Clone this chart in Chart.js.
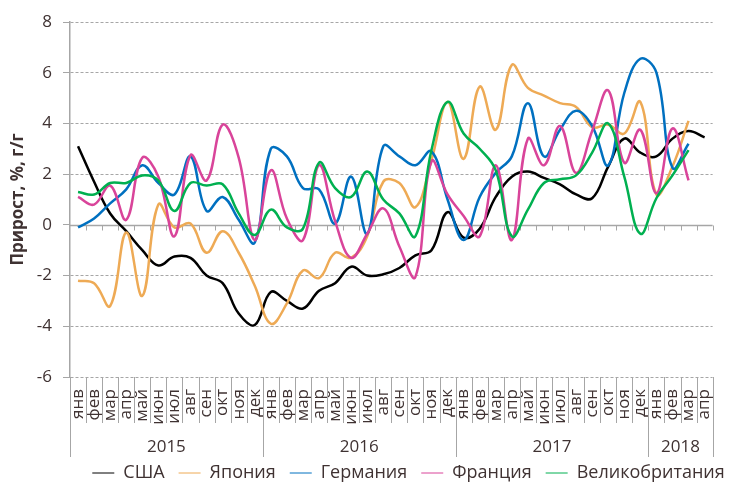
<!DOCTYPE html>
<html lang="ru">
<head>
<meta charset="utf-8">
<title>Прирост, %, г/г</title>
<script src="https://cdn.jsdelivr.net/npm/chart.js@4"></script>
<style>
  body { margin: 0; background: #fff; }
</style>
</head>
<body>
<canvas id="myChart" width="737" height="487"></canvas>
<script>
  const monthNames = ['янв', 'фев', 'мар', 'апр', 'май', 'июн', 'июл', 'авг', 'сен', 'окт', 'ноя', 'дек'];
  const years = ['2015', '2016', '2017', '2018'];
  const monthsInYear = [12, 12, 12, 4];
  const yTicks = [-6, -4, -2, 0, 2, 4, 6, 8];

  // годовой прирост, %, янв 2015 - апр 2018
  const usa = [3.1, 1.7, 0.45, -0.25, -1.0, -1.6, -1.25, -1.3, -2.0, -2.3, -3.5, -3.95,
    -2.65, -3.0, -3.3, -2.6, -2.3, -1.65, -2.0, -1.95, -1.7, -1.2, -1.0, 0.5,
    -0.5, -0.15, 1.1, 1.9, 2.1, 1.85, 1.6, 1.2, 1.05, 2.3, 3.4, 2.85,
    2.7, 3.4, 3.7, 3.45];
  const japan = [-2.2, -2.3, -3.2, -0.3, -2.8, 0.8, -0.1, 0.05, -1.1, -0.25, -1.1, -2.4,
    -3.9, -3.1, -1.8, -2.1, -1.1, -1.3, -0.45, 1.7, 1.65, 0.7, 2.55, 4.85,
    2.6, 5.45, 3.75, 6.3, 5.4, 5.1, 4.8, 4.65, 3.85, 3.95, 3.6, 4.85,
    1.2, 2.3, 4.1];
  const germany = [-0.1, 0.25, 0.85, 1.4, 2.35, 1.65, 1.2, 2.7, 0.55, 1.1, 0.2, -0.7,
    3.0, 2.7, 1.45, 1.4, 0.05, 1.9, -0.35, 3.1, 2.7, 2.35, 2.9, 1.0,
    -0.6, 1.1, 2.05, 2.7, 4.8, 2.7, 3.75, 4.5, 3.9, 2.35, 5.2, 6.55,
    6.0, 2.25, 3.2];
  const france = [1.1, 0.8, 1.55, 0.2, 2.65, 1.9, -0.45, 2.75, 1.75, 3.95, 2.65, -0.6,
    2.15, 0.25, -0.6, 2.35, 0.15, -1.3, -0.35, 0.65, -0.85, -2.05, 2.5, 1.2,
    0.35, -0.45, 2.35, -0.6, 3.4, 2.35, 3.9, 2.05, 3.7, 5.3, 2.45, 3.75,
    1.25, 3.8, 1.75];
  const uk = [1.3, 1.2, 1.65, 1.65, 1.95, 1.75, 0.55, 1.65, 1.55, 1.6, 0.45, -0.4,
    0.6, -0.1, -0.15, 2.45, 1.45, 1.1, 2.1, 1.0, 0.45, -0.45, 2.95, 4.85,
    3.6, 3.0, 2.15, -0.45, 0.6, 1.65, 1.8, 1.95, 2.85, 4.0, 1.9, -0.35,
    1.05, 1.95, 2.95];

  const textColor = '#3f3232';
  const axisColor = '#a6a6a6';
  const fontFamily = "'Open Sans', sans-serif";

  const labels = [];
  years.forEach((yr, i) => {
    for (let m = 0; m < monthsInYear[i]; m++) labels.push(monthNames[m]);
  });
  const yearBounds = [0];
  monthsInYear.forEach(n => yearBounds.push(yearBounds[yearBounds.length - 1] + n));

  Chart.defaults.font.family = fontFamily;
  Chart.defaults.color = textColor;

  // ось на нуле, разделители подписей, годы
  const axisExtras = {
    id: 'axisExtras',
    afterLayout(chart) {
      // легенда чуть ниже и правее, как в оригинале
      const lg = chart.legend;
      lg.top += 5; lg.bottom += 5;
      lg.left += 40; lg.right += 40;
    },
    beforeDatasetsDraw(chart) {
      const {ctx, chartArea, scales: {x, y}} = chart;
      const y0 = Math.round(y.getPixelForValue(0)) + 0.5;
      ctx.save();
      ctx.strokeStyle = axisColor;
      ctx.lineWidth = 1.5;
      ctx.beginPath();
      ctx.moveTo(chartArea.left, y0);
      ctx.lineTo(chartArea.right, y0);
      ctx.stroke();
      ctx.lineWidth = 1;
      ctx.beginPath();
      for (let k = 1; k <= labels.length; k++) {
        const px = Math.round(x.getPixelForValue(k - 0.5)) + 0.5;
        ctx.moveTo(px, y0);
        ctx.lineTo(px, y0 + 5);
      }
      ctx.stroke();
      ctx.restore();
    },
    afterDraw(chart) {
      const {ctx, chartArea, scales: {x}} = chart;
      ctx.save();
      ctx.strokeStyle = axisColor;
      ctx.lineWidth = 1;
      ctx.beginPath();
      for (let k = 0; k <= labels.length; k++) {
        const px = Math.round(x.getPixelForValue(k - 0.5)) + 0.5;
        const len = yearBounds.includes(k) ? 80 : 46;
        ctx.moveTo(px, chartArea.bottom);
        ctx.lineTo(px, chartArea.bottom + len);
      }
      ctx.stroke();
      ctx.fillStyle = textColor;
      ctx.font = '17px ' + fontFamily;
      ctx.textAlign = 'center';
      ctx.textBaseline = 'middle';
      years.forEach((yr, i) => {
        const a = x.getPixelForValue(yearBounds[i] - 0.5);
        const b = x.getPixelForValue(yearBounds[i + 1] - 0.5);
        ctx.fillText(yr, (a + b) / 2, chartArea.bottom + 70);
      });
      ctx.restore();
    }
  };

  const ctx = document.getElementById('myChart');

  new Chart(ctx, {
    type: 'line',
    data: {
      labels: labels,
      datasets: [
        { label: 'США', data: usa, borderColor: '#000000', order: 5 },
        { label: 'Япония', data: japan, borderColor: '#eeaa55', order: 4 },
        { label: 'Германия', data: germany, borderColor: '#0070c0', order: 3 },
        { label: 'Франция', data: france, borderColor: '#d9449a', order: 2 },
        { label: 'Великобритания', data: uk, borderColor: '#00b050', order: 1 }
      ]
    },
    options: {
      responsive: false,
      animation: false,
      layout: { padding: { top: 22, right: 0, bottom: 0, left: 0 } },
      elements: {
        line: { borderWidth: 2.5, tension: 0.4, fill: false },
        point: { radius: 0 }
      },
      plugins: {
        tooltip: { enabled: false },
        legend: {
          position: 'bottom',
          labels: {
            sort: (a, b) => a.datasetIndex - b.datasetIndex,
            usePointStyle: true,
            pointStyle: 'line',
            pointStyleWidth: 22,
            padding: 14,
            color: textColor,
            font: { size: 18 }
          }
        }
      },
      scales: {
        x: {
          offset: true,
          grid: { display: false, drawTicks: false },
          border: { display: false },
          ticks: {
            autoSkip: false,
            minRotation: 90,
            maxRotation: 90,
            padding: 12,
            color: textColor,
            font: { size: 17 }
          },
          afterFit: (scale) => { scale.height = 68; }
        },
        y: {
          min: yTicks[0],
          max: yTicks[yTicks.length - 1],
          ticks: { stepSize: 2, padding: 11, color: textColor, font: { size: 17 } },
          grid: {
            color: (c) => (c.tick && c.tick.value === 0 ? 'rgba(0,0,0,0)' : axisColor),
            tickColor: axisColor,
            tickLength: 7,
            lineWidth: 1
          },
          border: { display: true, color: axisColor, width: 1.5, dash: [3, 2] },
          title: {
            display: true,
            text: 'Прирост, %, г/г',
            color: textColor,
            padding: { top: 8, bottom: 0 },
            font: { size: 17, weight: 'bold' }
          },
          afterFit: (scale) => { scale.width = 70; }
        }
      }
    },
    plugins: [axisExtras]
  });
</script>
</body>
</html>
